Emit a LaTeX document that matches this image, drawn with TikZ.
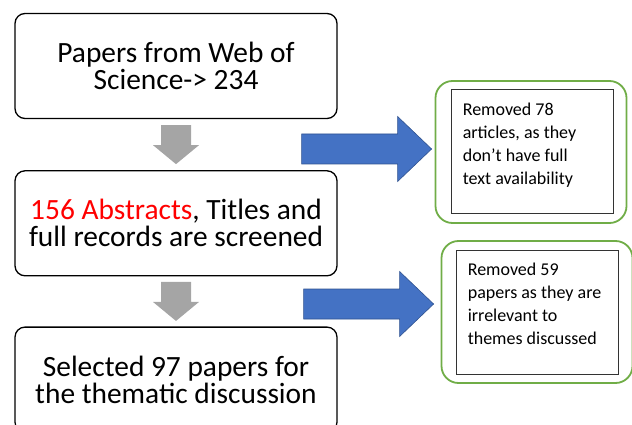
\documentclass[tikz,border=0pt]{standalone}
\usepackage{fontspec}
\setmainfont{Carlito}
\usepackage{xcolor}
\usepackage{tikz}
\usetikzlibrary{calc, positioning}
\definecolor{arrowgray}{HTML}{A5A5A5}
\definecolor{arrowblue}{HTML}{4472C4}
\definecolor{edgeblue}{HTML}{2F528F}
\definecolor{calloutgreen}{HTML}{70AD47}
\tikzstyle{stage} = [draw=black, line width=1.3pt, rounded corners=10pt, minimum width=322pt, minimum height=105pt, align=center, font=\fontsize{29.4}{27}\selectfont]
\tikzstyle{callout} = [draw=calloutgreen, line width=1.8pt, rounded corners=17pt, minimum width=191pt, minimum height=142pt]
\tikzstyle{note} = [draw=black!80, line width=0.8pt, minimum width=162pt, minimum height=124pt]
\tikzstyle{notetext} = [anchor=north west, align=left, inner sep=0pt, font=\fontsize{18}{23}\selectfont]
\tikzstyle{downarrow} = [fill=arrowgray]
\tikzstyle{blockarrow} = [fill=arrowblue, draw=edgeblue, line width=0.6pt]

\begin{document}
\begin{tikzpicture}[x=1pt, y=-1pt, node distance=50pt]
        \useasboundingbox (0,0) rectangle (632,425);
        \clip (0,0) rectangle (632,425);
        % Screening stages
        \node[stage] (papers) at (176,66) {Papers from Web of\\Science-> 234};
        \node[stage, below=51pt of papers] (screened) {\textcolor{red}{156 Abstracts}, Titles and\\full records are screened};
        \node[stage, below=of screened] (selected) {Selected 97 papers for\\the thematic discussion};
        % Removed records
        \node[callout] (removeda) at (531,152) {};
        \node[note] (notea) at (532,151) {};
        \node[notetext] (texta) at ($(notea.north west)+(12,14)$) {Removed 78\\articles, as they\\don’t have full\\text availability};
        \node[callout] (removedb) at (537,312) {};
        \node[note] (noteb) at (537,312.5) {};
        \node[notetext] (textb) at ($(noteb.north west)+(12,13)$) {Removed 59\\papers as they are\\irrelevant to\\themes discussed};
        % Gray arrows between stages
        \coordinate (g1) at ($(papers.south)!0.5!(screened.north)$);
        \coordinate (g2) at ($(screened.south)!0.5!(selected.north)$);
        \foreach \g in {g1, g2}
            \fill[downarrow] (\g) ++(-15,-19.5) -- ++(30,0) -- ++(0,20) -- ++(8,0) -- ++(-23,19) -- ++(-23,-19) -- ++(8,0) -- cycle;
        % Blue arrows to removed records
        \coordinate (b1) at ($(removeda.west)+(-3,-3)$);
        \coordinate (b2) at ($(removedb.west)+(-7,-8)$);
        \foreach \b in {b1, b2}
            \draw[blockarrow] (\b) -- ++(-34,-32.5) -- ++(0,17.5) -- ++(-96,0) -- ++(0,30) -- ++(96,0) -- ++(0,17.5) -- cycle;
        \end{tikzpicture}
\end{document}
